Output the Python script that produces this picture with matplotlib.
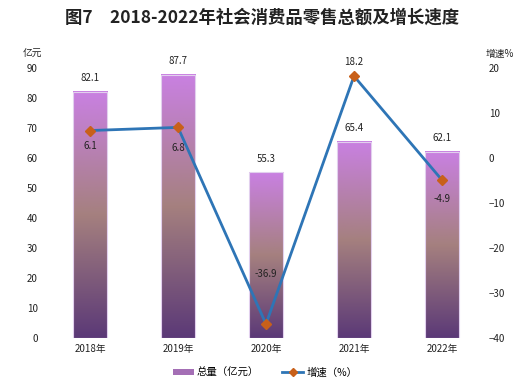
import numpy as np
import matplotlib
matplotlib.use("Agg")
import matplotlib.pyplot as plt
from matplotlib.colors import LinearSegmentedColormap
from matplotlib.patches import Patch
from matplotlib.lines import Line2D

plt.rcParams['font.family'] = ['Noto Sans CJK SC', 'DejaVu Sans']

years = ["2018年", "2019年", "2020年", "2021年", "2022年"]
total = [82.1, 87.7, 55.3, 65.4, 62.1]
growth = [6.1, 6.8, -36.9, 18.2, -4.9]

# label offsets in points (vertical), picked to match the reference
growth_dy = [-11, -15, 36, 10, -14]

bar_cmap = LinearSegmentedColormap.from_list("bar", ["#5b3977", "#a5807f", "#c980e2"])
line_color = "#2e75b6"
marker_color = "#c8601a"

fig = plt.figure(figsize=(5.25, 3.89), dpi=100)
ax = fig.add_axes([0.0876, 0.1311, 0.8381, 0.6941])
ax2 = ax.twinx()

x = np.arange(len(years))
width = 0.39
grad = np.linspace(0, 1, 256).reshape(-1, 1)
for xi, v in zip(x, total):
    ax.imshow(grad, cmap=bar_cmap, origin="lower", aspect="auto",
              extent=[xi - width / 2, xi + width / 2, 0, v], zorder=2)
    ax.add_patch(plt.Rectangle((xi - width / 2, 0), width, v, fill=False,
                               edgecolor="#e2d0ee", linewidth=0.8, zorder=3))
    ax.text(xi, v + 2.8, f"{v:.1f}", ha="center", va="bottom", fontsize=7, color="#222222")

ax.set_xlim(-0.5, len(years) - 0.5)
ax.set_ylim(0, 90)
ax.set_yticks(range(0, 91, 10))
ax.set_xticks(x)
ax.set_xticklabels(years)

ax2.plot(x, growth, color=line_color, linewidth=2, marker="D", markersize=5,
         markerfacecolor=marker_color, markeredgecolor=marker_color, zorder=5)
for xi, g, dy in zip(x, growth, growth_dy):
    ax2.annotate(f"{g:.1f}", (xi, g), xytext=(0, dy), textcoords="offset points",
                 ha="center", va="center", fontsize=7, color="#222222")
ax2.set_ylim(-40, 20)
ax2.set_yticks(range(-40, 21, 10))

for a in (ax, ax2):
    for s in a.spines.values():
        s.set_visible(False)
    a.tick_params(length=0, labelsize=7, colors="#222222")
ax.tick_params(axis="y", pad=6)
ax.tick_params(axis="x", pad=4)
ax2.tick_params(axis="y", pad=2)
ax.set_zorder(1)
ax2.set_zorder(2)
ax2.patch.set_visible(False)

fig.text(0.5, 0.955, "图7　2018-2022年社会消费品零售总额及增长速度", ha="center", va="center",
         fontsize=12.5, fontweight="bold", color="#222222")
fig.text(0.061, 0.862, "亿元", ha="center", va="center", fontsize=7, color="#222222")
fig.text(0.952, 0.862, "增速%", ha="center", va="center", fontsize=7, color="#222222")

handles = [Patch(facecolor="#a46fb5", edgecolor="none"),
           Line2D([0], [0], color=line_color, linewidth=2, marker="D", markersize=4,
                  markerfacecolor=marker_color, markeredgecolor=marker_color)]
fig.legend(handles, ["总量（亿元）", "增速（%）"], loc="center", bbox_to_anchor=(0.505, 0.043),
           ncol=2, frameon=False, fontsize=7.5, handlelength=2.0, handleheight=0.45,
           handletextpad=0.3, columnspacing=2.2)

fig.savefig("out.png", dpi=100)
